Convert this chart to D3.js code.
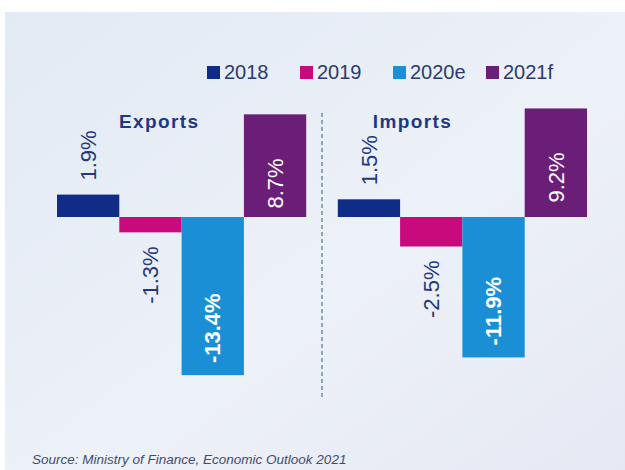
<!DOCTYPE html>
<html>
<head>
<meta charset="utf-8">
<script src="https://cdn.jsdelivr.net/npm/d3@7"></script>
<style>
  html, body { margin: 0; padding: 0; background: #ffffff; }
  svg { display: block; }
  text { font-family: "Liberation Sans", Arial, Helvetica, sans-serif; }
</style>
</head>
<body>
<script>
// Trade growth, year over year (%)
const panels = ["Exports", "Imports"];
const years = ["2018", "2019", "2020e", "2021f"];
const exportsValues = [1.9, -1.3, -13.4, 8.7];
const importsValues = [1.5, -2.5, -11.9, 9.2];
const yearColors = ["#0f2d86", "#c80a7c", "#1b8fd6", "#6b1e78"];
const sourceNote = "Source: Ministry of Finance, Economic Outlook 2021";

const W = 625, H = 470;
const svg = d3.select("body").append("svg").attr("width", W).attr("height", H);

// soft blue panel background
const defs = svg.append("defs");
const grad = defs.append("linearGradient").attr("id", "bg")
  .attr("x1", "0%").attr("y1", "0%").attr("x2", "100%").attr("y2", "100%");
grad.append("stop").attr("offset", "0%").attr("stop-color", "#e2eaf4");
grad.append("stop").attr("offset", "55%").attr("stop-color", "#edf1f8");
grad.append("stop").attr("offset", "100%").attr("stop-color", "#e6e9f3");
svg.append("rect").attr("x", 5).attr("y", 12).attr("width", W - 5).attr("height", H - 12)
  .attr("fill", "url(#bg)");

const series = { Exports: exportsValues, Imports: importsValues };
const color = d3.scaleOrdinal().domain(years).range(yearColors);

const x0 = d3.scaleBand().domain(panels).range([57, 587]).paddingInner(0.1125);
const x1 = d3.scaleBand().domain(years).range([0, x0.bandwidth()]).padding(0);
const y = d3.scaleLinear().domain([-14, 10]).range([382.2, 99]);

const navy = "#23377c";
const pct = v => v.toFixed(1) + "%";

// legend
const legX = d3.scalePoint().domain(years).range([207, 486]);
const leg = svg.append("g").selectAll("g").data(years).join("g")
  .attr("transform", d => `translate(${legX(d)},66)`);
leg.append("rect").attr("width", 13).attr("height", 13).attr("fill", d => color(d));
leg.append("text").attr("x", 17).attr("y", 13)
  .attr("font-size", 20).attr("fill", "#2b3a6e").text(d => d);

// panel titles
const titleOffset = { Exports: 62, Imports: 35 };
svg.append("g").selectAll("text").data(panels).join("text")
  .attr("x", d => x0(d) + titleOffset[d]).attr("y", 128)
  .attr("font-size", 19).attr("font-weight", "bold").attr("letter-spacing", 1.4)
  .attr("fill", "#1f3883").text(d => d);

// divider between the two panels
const divX = (x0("Exports") + x0.bandwidth() + x0("Imports")) / 2;
svg.append("line").attr("x1", divX).attr("x2", divX).attr("y1", 113).attr("y2", 398)
  .attr("stroke", "#6a8bb1").attr("stroke-width", 1.5).attr("stroke-dasharray", "4,3");

// bars and value labels
panels.forEach(p => {
  const rows = years.map((yr, i) => ({ year: yr, value: series[p][i], idx: i }));
  const g = svg.append("g").attr("transform", `translate(${x0(p)},0)`);

  g.selectAll("rect").data(rows).join("rect")
    .attr("x", d => x1(d.year))
    .attr("width", x1.bandwidth())
    .attr("y", d => y(Math.max(0, d.value)))
    .attr("height", d => Math.abs(y(d.value) - y(0)))
    .attr("fill", d => color(d.year));

  g.selectAll("text").data(rows).join("text")
    .attr("transform", d => {
      const cx = x1(d.year) + x1.bandwidth() / 2;
      let ty;
      if (d.idx === 0) ty = y(d.value) - 14;          // above positive bar
      else if (d.idx === 1) ty = y(d.value) + 14;     // below negative bar
      else if (d.idx === 2) ty = y(d.value) - 12;     // inside, near bar end
      else ty = y(d.value) + 44;                      // inside, near top
      return `translate(${cx},${ty}) rotate(-90)`;
    })
    .attr("dy", "0.35em")
    .attr("text-anchor", d => (d.idx === 0 || d.idx === 2) ? "start" : "end")
    .attr("font-size", 22)
    .attr("font-weight", d => d.idx === 2 ? "bold" : "normal")
    .attr("fill", d => d.idx >= 2 ? "#ffffff" : navy)
    .text(d => pct(d.value));
});

// source note
svg.append("text").attr("x", 32).attr("y", 464)
  .attr("font-size", 13.5).attr("font-style", "italic").attr("fill", "#3f4d6d")
  .text(sourceNote);
</script>
</body>
</html>
